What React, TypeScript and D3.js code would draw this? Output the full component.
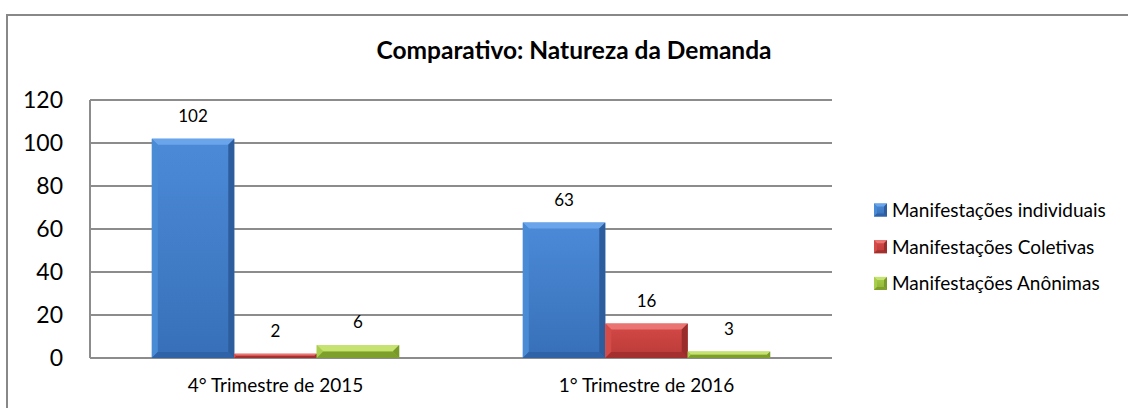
import React from "react";
import * as d3 from "d3";

const categories = ["4° Trimestre de 2015", "1° Trimestre de 2016"];
const seriesNames = [
  "Manifestações individuais",
  "Manifestações Coletivas",
  "Manifestações Anônimas",
];
const seriesValues = [
  [102, 63],
  [2, 16],
  [6, 3],
];
const yTicks = [0, 20, 40, 60, 80, 100, 120];
const title = "Comparativo: Natureza da Demanda";

// face colours for each series: top bevel, left, right, bottom, gradient ends
const palette = [
  { top: "#6aa4ea", left: "#4a8bd6", right: "#2d5d9c", bottom: "#2f62a6", light: "#4c8ad8", dark: "#3770b8" },
  { top: "#ea7472", left: "#d44c49", right: "#982d2b", bottom: "#a3302e", light: "#d54a47", dark: "#b93a38" },
  { top: "#c6e271", left: "#a9cd4c", right: "#789a2a", bottom: "#7f9f2c", light: "#a7cd4a", dark: "#8eb336" },
];

const W = 1128;
const H = 408;
const font = "Lato, 'Open Sans', sans-serif";

function BevelBar({ x, y, w, h, c, size }: any) {
  const b = Math.max(0, Math.min(size, h / 2, w / 2));
  const pts = (a: number[][]) => a.map((p) => p.join(",")).join(" ");
  return (
    <g>
      <rect x={x} y={y} width={w} height={h} fill={c.base} />
      <polygon points={pts([[x, y], [x + w, y], [x + w - b, y + b], [x + b, y + b]])} fill={c.top} />
      <polygon points={pts([[x, y], [x + b, y + b], [x + b, y + h - b], [x, y + h]])} fill={c.left} />
      <polygon points={pts([[x + w, y], [x + w, y + h], [x + w - b, y + h - b], [x + w - b, y + b]])} fill={c.right} />
      <polygon points={pts([[x, y + h], [x + b, y + h - b], [x + w - b, y + h - b], [x + w, y + h]])} fill={c.bottom} />
    </g>
  );
}

export default function App() {
  const plot = { left: 90, right: 832, top: 100, bottom: 358 };

  const x0 = d3
    .scaleBand<string>()
    .domain(categories)
    .range([plot.left, plot.right])
    .paddingInner(0)
    .paddingOuter(0);

  const x1 = d3
    .scaleBand<string>()
    .domain(seriesNames)
    .range([0, x0.bandwidth()])
    .paddingInner(0)
    .paddingOuter(0.75);

  const y = d3.scaleLinear().domain([0, 120]).range([plot.bottom, plot.top]);

  return (
    <svg
      width={W}
      height={H}
      style={{ position: "absolute", left: 0, top: 0, background: "#fff" }}
    >
      <defs>
        {palette.map((c, i) => (
          <linearGradient key={i} id={`grad${i}`} x1="0" y1="0" x2="0" y2="1">
            <stop offset="0%" stopColor={c.light} />
            <stop offset="100%" stopColor={c.dark} />
          </linearGradient>
        ))}
      </defs>

      {/* outer chart border */}
      <rect x={7} y={15} width={W + 20} height={H + 20} fill="#fff" stroke="#888" strokeWidth={2} />

      <text
        x={574}
        y={59}
        textAnchor="middle"
        fontFamily={font}
        fontWeight="bold"
        fontSize={24.5}
        fill="#000"
      >
        {title}
      </text>

      {/* gridlines */}
      {yTicks.map((t) => (
        <line
          key={t}
          x1={plot.left}
          x2={plot.right}
          y1={y(t)}
          y2={y(t)}
          stroke="#8c8c8c"
          strokeWidth={2}
        />
      ))}
      <line x1={plot.left} x2={plot.left} y1={plot.top} y2={plot.bottom} stroke="#8c8c8c" strokeWidth={2} />

      {/* y tick labels */}
      {yTicks.map((t) => (
        <text
          key={t}
          x={63}
          y={y(t)}
          dy="0.36em"
          textAnchor="end"
          fontFamily={font}
          fontSize={23}
          fill="#000"
        >
          {t}
        </text>
      ))}

      {/* bars */}
      {categories.map((cat, ci) => (
        <g key={cat} transform={`translate(${x0(cat)},0)`}>
          {seriesNames.map((s, si) => {
            const v = seriesValues[si][ci];
            const bx = x1(s)!;
            const by = y(v);
            const bh = y(0) - by;
            const c = { ...palette[si], base: `url(#grad${si})` };
            return (
              <g key={s}>
                <BevelBar x={bx} y={by} w={x1.bandwidth()} h={bh} c={c} size={6} />
                <text
                  x={bx + x1.bandwidth() / 2}
                  y={by - 17}
                  textAnchor="middle"
                  fontFamily={font}
                  fontSize={17}
                  fill="#000"
                >
                  {v}
                </text>
              </g>
            );
          })}
          <text
            x={x0.bandwidth() / 2}
            y={392}
            textAnchor="middle"
            fontFamily={font}
            fontSize={19}
            fill="#000"
          >
            {cat}
          </text>
        </g>
      ))}

      {/* legend */}
      {seriesNames.map((s, i) => {
        const cy = 210 + i * 36.7;
        const c = { ...palette[i], base: `url(#grad${i})` };
        return (
          <g key={s}>
            <BevelBar x={874} y={cy - 6.5} w={13} h={13} c={c} size={3} />
            <text x={892} y={cy} dy="0.36em" fontFamily={font} fontSize={19} fill="#000">
              {s}
            </text>
          </g>
        );
      })}
    </svg>
  );
}
